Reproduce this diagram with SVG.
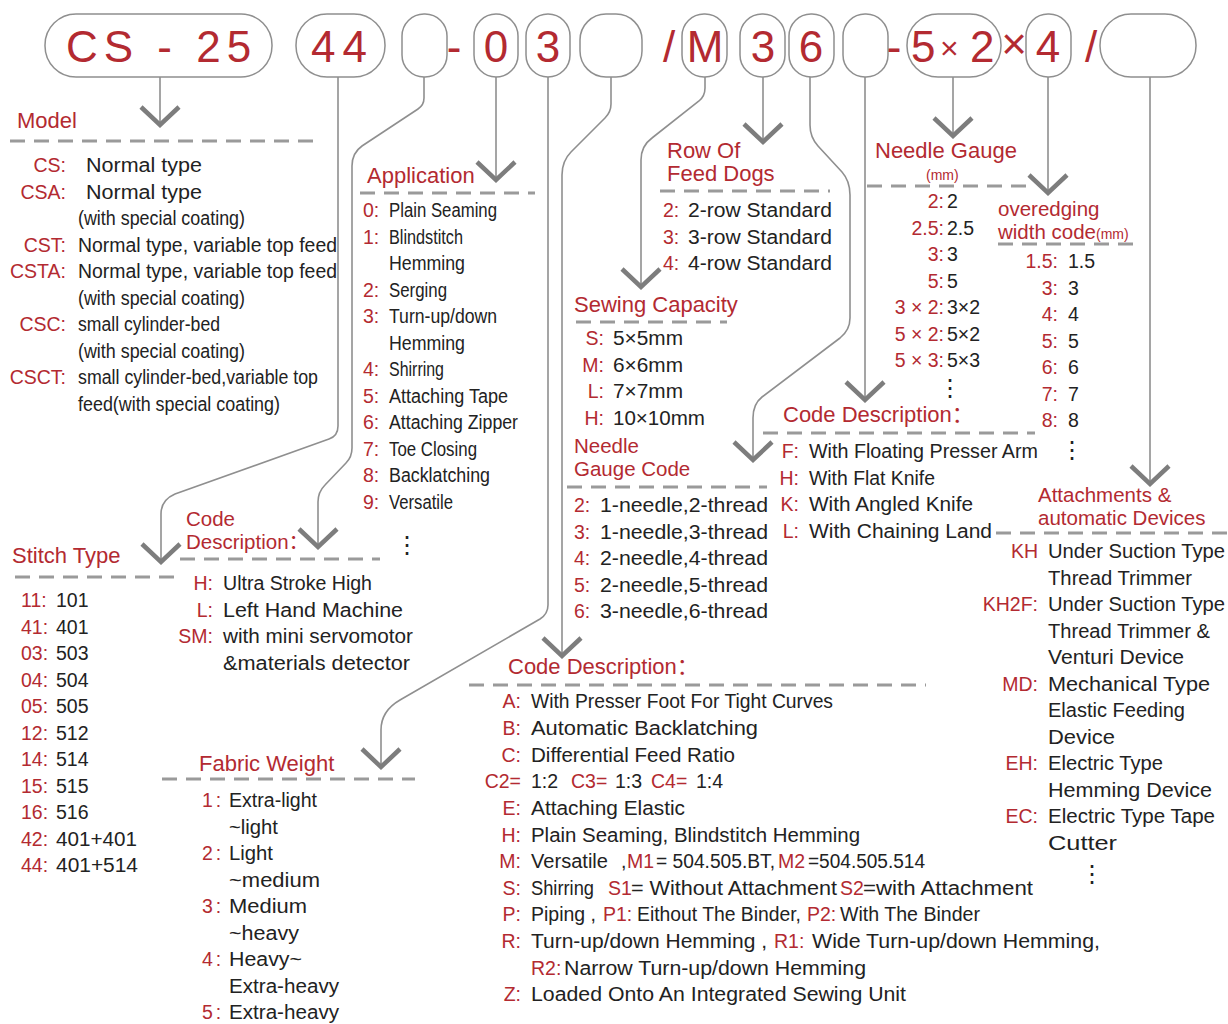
<svg xmlns="http://www.w3.org/2000/svg" xmlns:xlink="http://www.w3.org/1999/xlink" width="1228" height="1024" viewBox="0 0 1228 1024">
<style>
text{font-family:"Liberation Sans",Arial,"Noto Sans CJK SC",sans-serif;font-size:19.5px;fill:#222}
.r{fill:#b32a31}
.h{font-size:22px;fill:#b32a31}
.h2{font-size:20.5px;fill:#b32a31}
.sm{font-size:14px}
.e{text-anchor:end}
.m{text-anchor:middle}
.big{font-size:44px;fill:#b32a31}
.dots{font-family:"DejaVu Sans",sans-serif;font-size:24px;fill:#222}
.pill{fill:#fff;stroke:#8f8f8f;stroke-width:1.5}
.ln{fill:none;stroke:#8f8f8f;stroke-width:1.6}
.dash{fill:none;stroke:#9a9a9a;stroke-width:3;stroke-dasharray:15 9}
.chev{fill:none;stroke:#7d7d7d;stroke-width:4.5}
</style>
<defs>
<polyline id="chev" class="chev" points="-19,-18 0,0 19,-18"/>
</defs>
<rect width="1228" height="1024" fill="#fff"/>

<g id="connectors">
<path class="ln" d="M160,77 V124"/>
<path class="ln" d="M338,77 V426 Q338,436 329,439 L175,494 Q161,500 161,514 V561"/>
<path class="ln" d="M424,77 V98 Q424,105 418,109 L362,146 Q352,153 352,166 V448 Q352,457 346,463 L325,485 Q318,492 318,502 V546"/>
<path class="ln" d="M496,77 V179"/>
<path class="ln" d="M548,77 V605 Q548,614 540,619 L400,700 Q381,711 381,730 V766"/>
<path class="ln" d="M611,77 V104 Q611,112 605,118 L571,152 Q562,161 562,175 V655"/>
<path class="ln" d="M705,77 V88 Q705,96 699,101 L652,138 Q641,146 641,160 V286"/>
<path class="ln" d="M763,77 V141"/>
<path class="ln" d="M810,77 V125 Q810,137 818,146 L842,172 Q850,181 850,195 V318 Q850,330 840,338 L762,397 Q753,404 753,418 V459"/>
<path class="ln" d="M865,77 V399"/>
<path class="ln" d="M953,77 V135"/>
<path class="ln" d="M1048,77 V192"/>
<path class="ln" d="M1150,77 V483"/>
<use xlink:href="#chev" x="160" y="125"/>
<use xlink:href="#chev" x="161" y="562"/>
<use xlink:href="#chev" x="318" y="547"/>
<use xlink:href="#chev" x="496" y="180"/>
<use xlink:href="#chev" x="381" y="767"/>
<use xlink:href="#chev" x="562" y="656"/>
<use xlink:href="#chev" x="641" y="287"/>
<use xlink:href="#chev" x="763" y="142"/>
<use xlink:href="#chev" x="753" y="460"/>
<use xlink:href="#chev" x="865" y="400"/>
<use xlink:href="#chev" x="953" y="136"/>
<use xlink:href="#chev" x="1048" y="193"/>
<use xlink:href="#chev" x="1150" y="484"/>
</g>

<g id="code-row">
<g id="pill-cs25"><rect class="pill" x="45" y="14" width="227" height="63" rx="31"/><text class="big" x="66" y="62" letter-spacing="6">CS - 25</text></g>
<g id="pill-44"><rect class="pill" x="296" y="14" width="89" height="63" rx="31"/><text class="big" x="311" y="62" letter-spacing="7">44</text></g>
<g id="pill-blank1"><rect class="pill" x="402" y="14" width="45" height="63" rx="22"/></g>
<text class="big m" x="454" y="62">-</text>
<g id="pill-0"><rect class="pill" x="474" y="14" width="44" height="63" rx="22"/><text class="big m" x="496" y="62">0</text></g>
<g id="pill-3a"><rect class="pill" x="526" y="14" width="44" height="63" rx="22"/><text class="big m" x="548" y="62">3</text></g>
<g id="pill-blank2"><rect class="pill" x="580" y="14" width="62" height="63" rx="26"/></g>
<text class="big m" x="669" y="62">/</text>
<g id="pill-M"><rect class="pill" x="682" y="14" width="45" height="63" rx="22"/><text class="big m" x="705" y="62">M</text></g>
<g id="pill-3b"><rect class="pill" x="740" y="14" width="45" height="63" rx="22"/><text class="big m" x="763" y="62">3</text></g>
<g id="pill-6"><rect class="pill" x="789" y="14" width="45" height="63" rx="22"/><text class="big m" x="811" y="62">6</text></g>
<g id="pill-blank3"><rect class="pill" x="843" y="14" width="45" height="63" rx="22"/></g>
<text class="big m" x="894" y="62">-</text>
<g id="pill-5x2"><rect class="pill" x="907" y="14" width="94" height="63" rx="31"/><text class="big" x="911" y="62">5<tspan x="940" font-size="32" dy="-3">×</tspan><tspan x="970" dy="3">2</tspan></text></g>
<text class="big m" x="1014" y="59" font-size="32">×</text>
<g id="pill-4"><rect class="pill" x="1026" y="14" width="45" height="63" rx="22"/><text class="big m" x="1048" y="62">4</text></g>
<text class="big m" x="1091" y="62">/</text>
<g id="pill-blank4"><rect class="pill" x="1100" y="14" width="96" height="63" rx="31"/></g>
</g>

<g id="model">
<text class="h" x="17" y="128">Model</text>
<path class="dash" d="M10,141 H322"/>
<text class="r e" x="66" y="172">CS:</text><text x="86" y="172" textLength="116" lengthAdjust="spacingAndGlyphs">Normal type</text>
<text class="r e" x="66" y="198.5">CSA:</text><text x="86" y="198.5" textLength="116" lengthAdjust="spacingAndGlyphs">Normal type</text>
<text x="78" y="225" textLength="167" lengthAdjust="spacingAndGlyphs">(with special coating)</text>
<text class="r e" x="66" y="251.5">CST:</text><text x="78" y="251.5" textLength="259" lengthAdjust="spacingAndGlyphs">Normal type, variable top feed</text>
<text class="r e" x="66" y="278">CSTA:</text><text x="78" y="278" textLength="259" lengthAdjust="spacingAndGlyphs">Normal type, variable top feed</text>
<text x="78" y="304.5" textLength="167" lengthAdjust="spacingAndGlyphs">(with special coating)</text>
<text class="r e" x="66" y="331">CSC:</text><text x="78" y="331" textLength="142" lengthAdjust="spacingAndGlyphs">small cylinder-bed</text>
<text x="78" y="357.5" textLength="167" lengthAdjust="spacingAndGlyphs">(with special coating)</text>
<text class="r e" x="66" y="384">CSCT:</text><text x="78" y="384" textLength="240" lengthAdjust="spacingAndGlyphs">small cylinder-bed,variable top</text>
<text x="78" y="410.5" textLength="202" lengthAdjust="spacingAndGlyphs">feed(with special coating)</text>
</g>

<g id="application">
<text class="h" x="367" y="183">Application</text>
<path class="dash" d="M360,193 H535"/>
<text class="r" x="363" y="217">0:</text><text x="389" y="217" textLength="108" lengthAdjust="spacingAndGlyphs">Plain Seaming</text>
<text class="r" x="363" y="243.5">1:</text><text x="389" y="243.5" textLength="74" lengthAdjust="spacingAndGlyphs">Blindstitch</text>
<text x="389" y="270" textLength="76" lengthAdjust="spacingAndGlyphs">Hemming</text>
<text class="r" x="363" y="296.5">2:</text><text x="389" y="296.5" textLength="58" lengthAdjust="spacingAndGlyphs">Serging</text>
<text class="r" x="363" y="323">3:</text><text x="389" y="323" textLength="108" lengthAdjust="spacingAndGlyphs">Turn-up/down</text>
<text x="389" y="349.5" textLength="76" lengthAdjust="spacingAndGlyphs">Hemming</text>
<text class="r" x="363" y="376">4:</text><text x="389" y="376" textLength="55" lengthAdjust="spacingAndGlyphs">Shirring</text>
<text class="r" x="363" y="402.5">5:</text><text x="389" y="402.5" textLength="119" lengthAdjust="spacingAndGlyphs">Attaching Tape</text>
<text class="r" x="363" y="429">6:</text><text x="389" y="429" textLength="129" lengthAdjust="spacingAndGlyphs">Attaching Zipper</text>
<text class="r" x="363" y="455.5">7:</text><text x="389" y="455.5" textLength="88" lengthAdjust="spacingAndGlyphs">Toe Closing</text>
<text class="r" x="363" y="482">8:</text><text x="389" y="482" textLength="101" lengthAdjust="spacingAndGlyphs">Backlatching</text>
<text class="r" x="363" y="508.5">9:</text><text x="389" y="508.5" textLength="64" lengthAdjust="spacingAndGlyphs">Versatile</text>
<text class="dots m" x="407" y="553">⋮</text>
</g>

<g id="feed-dogs">
<text class="h" x="667" y="158">Row Of<tspan x="667" dy="23">Feed Dogs</tspan></text>
<path class="dash" d="M660,191 H830"/>
<text class="r" x="663" y="217">2:</text><text x="688" y="217" textLength="144" lengthAdjust="spacingAndGlyphs">2-row Standard</text>
<text class="r" x="663" y="243.5">3:</text><text x="688" y="243.5" textLength="144" lengthAdjust="spacingAndGlyphs">3-row Standard</text>
<text class="r" x="663" y="270">4:</text><text x="688" y="270" textLength="144" lengthAdjust="spacingAndGlyphs">4-row Standard</text>
</g>

<g id="sewing-capacity">
<text class="h" x="574" y="312">Sewing Capacity</text>
<path class="dash" d="M576,322 H727"/>
<text class="r e" x="604" y="345">S:</text><text x="613" y="345" textLength="70" lengthAdjust="spacingAndGlyphs">5×5mm</text>
<text class="r e" x="604" y="371.5">M:</text><text x="613" y="371.5" textLength="70" lengthAdjust="spacingAndGlyphs">6×6mm</text>
<text class="r e" x="604" y="398">L:</text><text x="613" y="398" textLength="70" lengthAdjust="spacingAndGlyphs">7×7mm</text>
<text class="r e" x="604" y="424.5">H:</text><text x="613" y="424.5" textLength="92" lengthAdjust="spacingAndGlyphs">10×10mm</text>
</g>

<g id="needle-gauge-code">
<text class="h2" x="574" y="453">Needle<tspan x="574" dy="22.5">Gauge Code</tspan></text>
<path class="dash" d="M567,487 H767"/>
<text class="r" x="574" y="512">2:</text><text x="600" y="512" textLength="168" lengthAdjust="spacingAndGlyphs">1-needle,2-thread</text>
<text class="r" x="574" y="538.5">3:</text><text x="600" y="538.5" textLength="168" lengthAdjust="spacingAndGlyphs">1-needle,3-thread</text>
<text class="r" x="574" y="565">4:</text><text x="600" y="565" textLength="168" lengthAdjust="spacingAndGlyphs">2-needle,4-thread</text>
<text class="r" x="574" y="591.5">5:</text><text x="600" y="591.5" textLength="168" lengthAdjust="spacingAndGlyphs">2-needle,5-thread</text>
<text class="r" x="574" y="618">6:</text><text x="600" y="618" textLength="168" lengthAdjust="spacingAndGlyphs">3-needle,6-thread</text>
</g>

<g id="code-desc-fhkl">
<text class="h" x="783" y="422">Code Description：</text>
<path class="dash" d="M763,433 H1035"/>
<text class="r e" x="799" y="458">F:</text><text x="809" y="458" textLength="229" lengthAdjust="spacingAndGlyphs">With Floating Presser Arm</text>
<text class="r e" x="799" y="484.5">H:</text><text x="809" y="484.5" textLength="126" lengthAdjust="spacingAndGlyphs">With Flat Knife</text>
<text class="r e" x="799" y="511">K:</text><text x="809" y="511" textLength="164" lengthAdjust="spacingAndGlyphs">With Angled Knife</text>
<text class="r e" x="799" y="537.5">L:</text><text x="809" y="537.5" textLength="183" lengthAdjust="spacingAndGlyphs">With Chaining Land</text>
</g>

<g id="needle-gauge">
<text class="h" x="875" y="158">Needle Gauge<tspan class="sm" x="926" dy="22">(mm)</tspan></text>
<path class="dash" d="M867,186 H1030"/>
<text class="r e" x="944" y="208">2:</text><text x="947" y="208">2</text>
<text class="r e" x="944" y="234.5">2.5:</text><text x="947" y="234.5">2.5</text>
<text class="r e" x="944" y="261">3:</text><text x="947" y="261">3</text>
<text class="r e" x="944" y="287.5">5:</text><text x="947" y="287.5">5</text>
<text class="r e" x="944" y="314">3 × 2:</text><text x="947" y="314">3×2</text>
<text class="r e" x="944" y="340.5">5 × 2:</text><text x="947" y="340.5">5×2</text>
<text class="r e" x="944" y="367">5 × 3:</text><text x="947" y="367">5×3</text>
<text class="dots m" x="950" y="396">⋮</text>
</g>

<g id="overedging">
<text class="h2" x="998" y="216">overedging<tspan x="998" dy="22.5">width code</tspan><tspan font-size="14">(mm)</tspan></text>
<path class="dash" d="M998,244 H1140"/>
<text class="r e" x="1058" y="268">1.5:</text><text x="1068" y="268">1.5</text>
<text class="r e" x="1058" y="294.5">3:</text><text x="1068" y="294.5">3</text>
<text class="r e" x="1058" y="321">4:</text><text x="1068" y="321">4</text>
<text class="r e" x="1058" y="347.5">5:</text><text x="1068" y="347.5">5</text>
<text class="r e" x="1058" y="374">6:</text><text x="1068" y="374">6</text>
<text class="r e" x="1058" y="400.5">7:</text><text x="1068" y="400.5">7</text>
<text class="r e" x="1058" y="427">8:</text><text x="1068" y="427">8</text>
<text class="dots m" x="1072" y="458">⋮</text>
</g>

<g id="attachments">
<text class="h2" x="1038" y="502">Attachments &amp;<tspan x="1038" dy="22.5">automatic Devices</tspan></text>
<path class="dash" d="M996,533 H1228"/>
<text class="r e" x="1038" y="558">KH</text><text x="1048" y="558" textLength="177" lengthAdjust="spacingAndGlyphs">Under Suction Type</text>
<text x="1048" y="584.5" textLength="144" lengthAdjust="spacingAndGlyphs">Thread Trimmer</text>
<text class="r e" x="1038" y="611">KH2F:</text><text x="1048" y="611" textLength="177" lengthAdjust="spacingAndGlyphs">Under Suction Type</text>
<text x="1048" y="637.5" textLength="162" lengthAdjust="spacingAndGlyphs">Thread Trimmer &amp;</text>
<text x="1048" y="664" textLength="136" lengthAdjust="spacingAndGlyphs">Venturi Device</text>
<text class="r e" x="1038" y="690.5">MD:</text><text x="1048" y="690.5" textLength="162" lengthAdjust="spacingAndGlyphs">Mechanical Type</text>
<text x="1048" y="717" textLength="137" lengthAdjust="spacingAndGlyphs">Elastic Feeding</text>
<text x="1048" y="743.5" textLength="67" lengthAdjust="spacingAndGlyphs">Device</text>
<text class="r e" x="1038" y="770">EH:</text><text x="1048" y="770" textLength="115" lengthAdjust="spacingAndGlyphs">Electric Type</text>
<text x="1048" y="796.5" textLength="164" lengthAdjust="spacingAndGlyphs">Hemming Device</text>
<text class="r e" x="1038" y="823">EC:</text><text x="1048" y="823" textLength="167" lengthAdjust="spacingAndGlyphs">Electric Type Tape</text>
<text x="1048" y="849.5" textLength="69" lengthAdjust="spacingAndGlyphs">Cutter</text>
<text class="dots m" x="1092" y="882">⋮</text>
</g>

<g id="stitch-type">
<text class="h" x="12" y="563">Stitch Type</text>
<path class="dash" d="M15,577 H181"/>
<text class="r" x="21" y="607">11:</text><text x="56" y="607">101</text>
<text class="r" x="21" y="633.5">41:</text><text x="56" y="633.5">401</text>
<text class="r" x="21" y="660">03:</text><text x="56" y="660">503</text>
<text class="r" x="21" y="686.5">04:</text><text x="56" y="686.5">504</text>
<text class="r" x="21" y="713">05:</text><text x="56" y="713">505</text>
<text class="r" x="21" y="739.5">12:</text><text x="56" y="739.5">512</text>
<text class="r" x="21" y="766">14:</text><text x="56" y="766">514</text>
<text class="r" x="21" y="792.5">15:</text><text x="56" y="792.5">515</text>
<text class="r" x="21" y="819">16:</text><text x="56" y="819">516</text>
<text class="r" x="21" y="845.5">42:</text><text x="56" y="845.5" textLength="81" lengthAdjust="spacingAndGlyphs">401+401</text>
<text class="r" x="21" y="872">44:</text><text x="56" y="872" textLength="82" lengthAdjust="spacingAndGlyphs">401+514</text>
</g>

<g id="code-desc-hlsm">
<text class="h2" x="186" y="526">Code<tspan x="186" dy="22.5">Description：</tspan></text>
<path class="dash" d="M180,559 H380"/>
<text class="r e" x="213" y="590">H:</text><text x="223" y="590" textLength="149" lengthAdjust="spacingAndGlyphs">Ultra Stroke High</text>
<text class="r e" x="213" y="616.5">L:</text><text x="223" y="616.5" textLength="180" lengthAdjust="spacingAndGlyphs">Left Hand Machine</text>
<text class="r e" x="213" y="643">SM:</text><text x="223" y="643" textLength="190" lengthAdjust="spacingAndGlyphs">with mini servomotor</text>
<text x="223" y="669.5" textLength="187" lengthAdjust="spacingAndGlyphs">&amp;materials detector</text>
</g>

<g id="fabric-weight">
<text class="h" x="199" y="771">Fabric Weight</text>
<path class="dash" d="M162,779 H415"/>
<text class="r" x="202" y="807" letter-spacing="3">1:</text><text x="229" y="807" textLength="88" lengthAdjust="spacingAndGlyphs">Extra-light</text>
<text x="229" y="833.5" textLength="49" lengthAdjust="spacingAndGlyphs">~light</text>
<text class="r" x="202" y="860" letter-spacing="3">2:</text><text x="229" y="860" textLength="44" lengthAdjust="spacingAndGlyphs">Light</text>
<text x="229" y="886.5" textLength="91" lengthAdjust="spacingAndGlyphs">~medium</text>
<text class="r" x="202" y="913" letter-spacing="3">3:</text><text x="229" y="913" textLength="78" lengthAdjust="spacingAndGlyphs">Medium</text>
<text x="229" y="939.5" textLength="70" lengthAdjust="spacingAndGlyphs">~heavy</text>
<text class="r" x="202" y="966" letter-spacing="3">4:</text><text x="229" y="966" textLength="73" lengthAdjust="spacingAndGlyphs">Heavy~</text>
<text x="229" y="992.5" textLength="110" lengthAdjust="spacingAndGlyphs">Extra-heavy</text>
<text class="r" x="202" y="1019" letter-spacing="3">5:</text><text x="229" y="1019" textLength="110" lengthAdjust="spacingAndGlyphs">Extra-heavy</text>
</g>

<g id="code-desc-main">
<text class="h" x="508" y="674">Code Description：</text>
<path class="dash" d="M469,685 H926"/>
<text class="r e" x="521" y="708">A:</text><text x="531" y="708" textLength="302" lengthAdjust="spacingAndGlyphs">With Presser Foot For Tight Curves</text>
<text class="r e" x="521" y="735">B:</text><text x="531" y="735" textLength="227" lengthAdjust="spacingAndGlyphs">Automatic Backlatching</text>
<text class="r e" x="521" y="761.5">C:</text><text x="531" y="761.5" textLength="204" lengthAdjust="spacingAndGlyphs">Differential Feed Ratio</text>
<text class="r e" x="521" y="788">C2=</text>
<text x="531" y="788">1:2<tspan class="r" x="571">C3=</tspan><tspan x="615">1:3</tspan><tspan class="r" x="651">C4=</tspan><tspan x="696">1:4</tspan></text>
<text class="r e" x="521" y="815">E:</text><text x="531" y="815" textLength="154" lengthAdjust="spacingAndGlyphs">Attaching Elastic</text>
<text class="r e" x="521" y="841.5">H:</text><text x="531" y="841.5" textLength="329" lengthAdjust="spacingAndGlyphs">Plain Seaming, Blindstitch Hemming</text>
<text class="r e" x="521" y="868">M:</text>
<text x="531" y="868"><tspan textLength="77" lengthAdjust="spacingAndGlyphs">Versatile</tspan><tspan x="621">,</tspan><tspan class="r" x="627">M1</tspan><tspan x="656" textLength="119" lengthAdjust="spacingAndGlyphs">= 504.505.BT,</tspan><tspan class="r" x="778">M2</tspan><tspan x="808" textLength="117" lengthAdjust="spacingAndGlyphs">=504.505.514</tspan></text>
<text class="r e" x="521" y="894.5">S:</text>
<text x="531" y="894.5"><tspan textLength="63" lengthAdjust="spacingAndGlyphs">Shirring</tspan><tspan class="r" x="608">S1</tspan><tspan x="631" textLength="206" lengthAdjust="spacingAndGlyphs">= Without Attachment</tspan><tspan class="r" x="840">S2</tspan><tspan x="863" textLength="170" lengthAdjust="spacingAndGlyphs">=with Attachment</tspan></text>
<text class="r e" x="521" y="921">P:</text>
<text x="531" y="921"><tspan textLength="65" lengthAdjust="spacingAndGlyphs">Piping ,</tspan><tspan class="r" x="603">P1:</tspan><tspan x="637" textLength="164" lengthAdjust="spacingAndGlyphs">Eithout The Binder,</tspan><tspan class="r" x="807">P2:</tspan><tspan x="840" textLength="140" lengthAdjust="spacingAndGlyphs">With The Binder</tspan></text>
<text class="r e" x="521" y="948">R:</text>
<text x="531" y="948"><tspan textLength="236" lengthAdjust="spacingAndGlyphs">Turn-up/down Hemming ,</tspan><tspan class="r" x="774">R1:</tspan><tspan x="812" textLength="288" lengthAdjust="spacingAndGlyphs">Wide Turn-up/down Hemming,</tspan></text>
<text x="531" y="974.5"><tspan class="r">R2:</tspan><tspan x="564" textLength="302" lengthAdjust="spacingAndGlyphs">Narrow Turn-up/down Hemming</tspan></text>
<text class="r e" x="521" y="1001">Z:</text><text x="531" y="1001" textLength="375" lengthAdjust="spacingAndGlyphs">Loaded Onto An Integrated Sewing Unit</text>
</g>
</svg>
